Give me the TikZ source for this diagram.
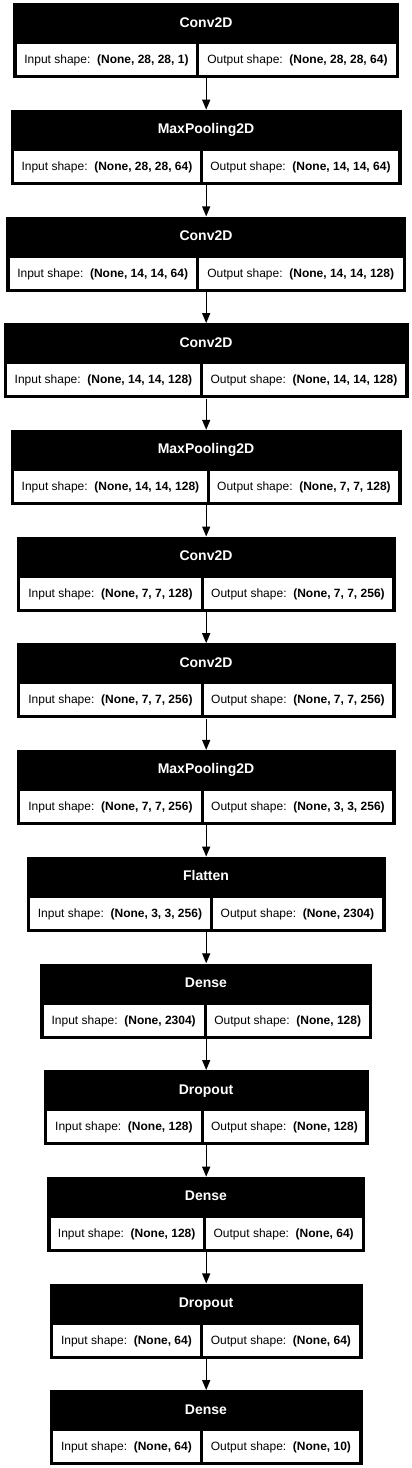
\documentclass[tikz,border=0pt]{standalone}
\usepackage{fontspec}
\setmainfont{Liberation Sans}
\usetikzlibrary{arrows.meta}
\tikzset{
  blk/.style={fill=black, draw=none, inner sep=0pt, anchor=north west},
  hdr/.style={text=white, font=\fontsize{14}{16}\selectfont\bfseries, inner sep=0pt, text height=10pt, text depth=3pt},
  cell/.style={fill=white, draw=none, inner sep=0pt, anchor=north west, minimum height=31pt,
    font=\fontsize{12}{14}\selectfont, text height=11pt, text depth=3pt},
  arr/.style={line width=1.3pt, -{Triangle[width=8pt,length=10pt]}},
}
\newcommand{\mklayer}[7]{%
  \pgfmathsetmacro{\lyxa}{206-#2}%
  \pgfmathsetmacro{\lyxb}{206+#2}%
  \pgfmathsetmacro{\lywl}{#4-1.5-(\lyxa+3.5)}%
  \pgfmathsetmacro{\lywr}{(\lyxb-3.5)-(#4+1.5)}%
  \node[blk, minimum width={2*#2*1pt}, minimum height=75pt] (#1) at (\lyxa,#3) {};
  \node[hdr] (#1h) at (206,{#3+20.5}) {#5};
  \node[cell, minimum width=\lywl pt] (#1i) at ({\lyxa+3.5},{#3+41}) {Input shape:\hspace{6.7pt}\textbf{#6}};
  \node[cell, minimum width=\lywr pt] (#1o) at ({#4+1.5},{#3+41}) {Output shape:\hspace{6.7pt}\textbf{#7}};
}
\begin{document}
\begin{tikzpicture}[x=1pt, y=-1pt]
\fill[white] (0,0) rectangle (412,1468);
\useasboundingbox (0,0) rectangle (412,1468);
\mklayer{L1}{193}{3}{197.5}{Conv2D}{(None, 28, 28, 1)}{(None, 28, 28, 64)}
\mklayer{L2}{195.5}{109.7}{201}{MaxPooling2D}{(None, 28, 28, 64)}{(None, 14, 14, 64)}
\mklayer{L3}{200}{216.4}{197}{Conv2D}{(None, 14, 14, 64)}{(None, 14, 14, 128)}
\mklayer{L4}{202.5}{323.1}{201}{Conv2D}{(None, 14, 14, 128)}{(None, 14, 14, 128)}
\mklayer{L5}{195.5}{429.8}{208}{MaxPooling2D}{(None, 14, 14, 128)}{(None, 7, 7, 128)}
\mklayer{L6}{189.5}{536.5}{202}{Conv2D}{(None, 7, 7, 128)}{(None, 7, 7, 256)}
\mklayer{L7}{189.5}{643.2}{202}{Conv2D}{(None, 7, 7, 256)}{(None, 7, 7, 256)}
\mklayer{L8}{189.5}{749.9}{202}{MaxPooling2D}{(None, 7, 7, 256)}{(None, 3, 3, 256)}
\mklayer{L9}{179.5}{856.6}{211}{Flatten}{(None, 3, 3, 256)}{(None, 2304)}
\mklayer{L10}{166}{963.3}{205}{Dense}{(None, 2304)}{(None, 128)}
\mklayer{L11}{162.5}{1070}{202}{Dropout}{(None, 128)}{(None, 128)}
\mklayer{L12}{159}{1176.7}{204}{Dense}{(None, 128)}{(None, 64)}
\mklayer{L13}{156.5}{1283.4}{201}{Dropout}{(None, 64)}{(None, 64)}
\mklayer{L14}{156.5}{1390.1}{201}{Dense}{(None, 64)}{(None, 10)}
\foreach \a/\b in {L1/L2,L2/L3,L3/L4,L4/L5,L5/L6,L6/L7,L7/L8,L8/L9,L9/L10,L10/L11,L11/L12,L12/L13,L13/L14}
  \draw[arr] (\a.south) -- (\b.north);
\end{tikzpicture}
\end{document}
